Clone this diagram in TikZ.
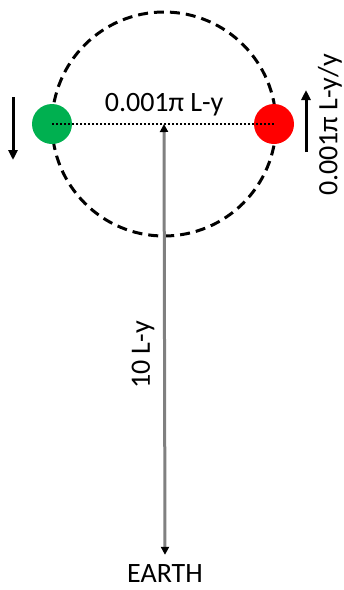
\documentclass[tikz,border=0pt]{standalone}
\usepackage{fontspec}
\setmainfont{Carlito}
\usetikzlibrary{arrows.meta}
\definecolor{planetgreen}{RGB}{0,176,80}
\begin{document}
\begin{tikzpicture}[x=1pt,y=-1pt]
\tikzset{orbit/.style={draw=black,line width=3pt,dash pattern=on 10pt off 6pt}}
\tikzset{ball/.style={circle,minimum size=40pt,inner sep=0pt}}
\tikzset{lbl/.style={font=\fontsize{28}{33}\selectfont,inner sep=0pt}}
\tikzset{move/.style={line width=3pt,-{Triangle[length=10pt,width=9pt]}}}
\tikzset{span/.style={draw=gray,line width=3pt,{Triangle[length=8pt,width=8pt,fill=black,color=black]}-{Triangle[length=8pt,width=8pt,fill=black,color=black]}}}
\useasboundingbox (0,0) rectangle (344,590);
\coordinate (c) at (164,124);
\draw[orbit] (c) circle [radius=112pt];
\node[ball,fill=planetgreen] (g) at (52,124) {};
\node[ball,fill=red] (r) at (274,124) {};
\draw[line width=2pt,dash pattern=on 2pt off 2pt] (g.center) -- (r.center);
\node[lbl] (d) at (164,105) {0.001π L-y};
\node[lbl] (earth) at (165,574) {EARTH};
\draw[span] ([yshift=10pt]earth.north) -- (c);
\node[lbl,rotate=90] (dist) at (143,355) {10 L-y};
\coordinate (g1) at (13,97);
\coordinate (g2) at (13,160);
\draw[move] (g1) -- (g2);
\coordinate (r1) at (306,152);
\coordinate (r2) at (306,90);
\draw[move] (r1) -- (r2);
\node[lbl,rotate=90] (v) at (330,125) {0.001π L-y/y};
\end{tikzpicture}
\end{document}
